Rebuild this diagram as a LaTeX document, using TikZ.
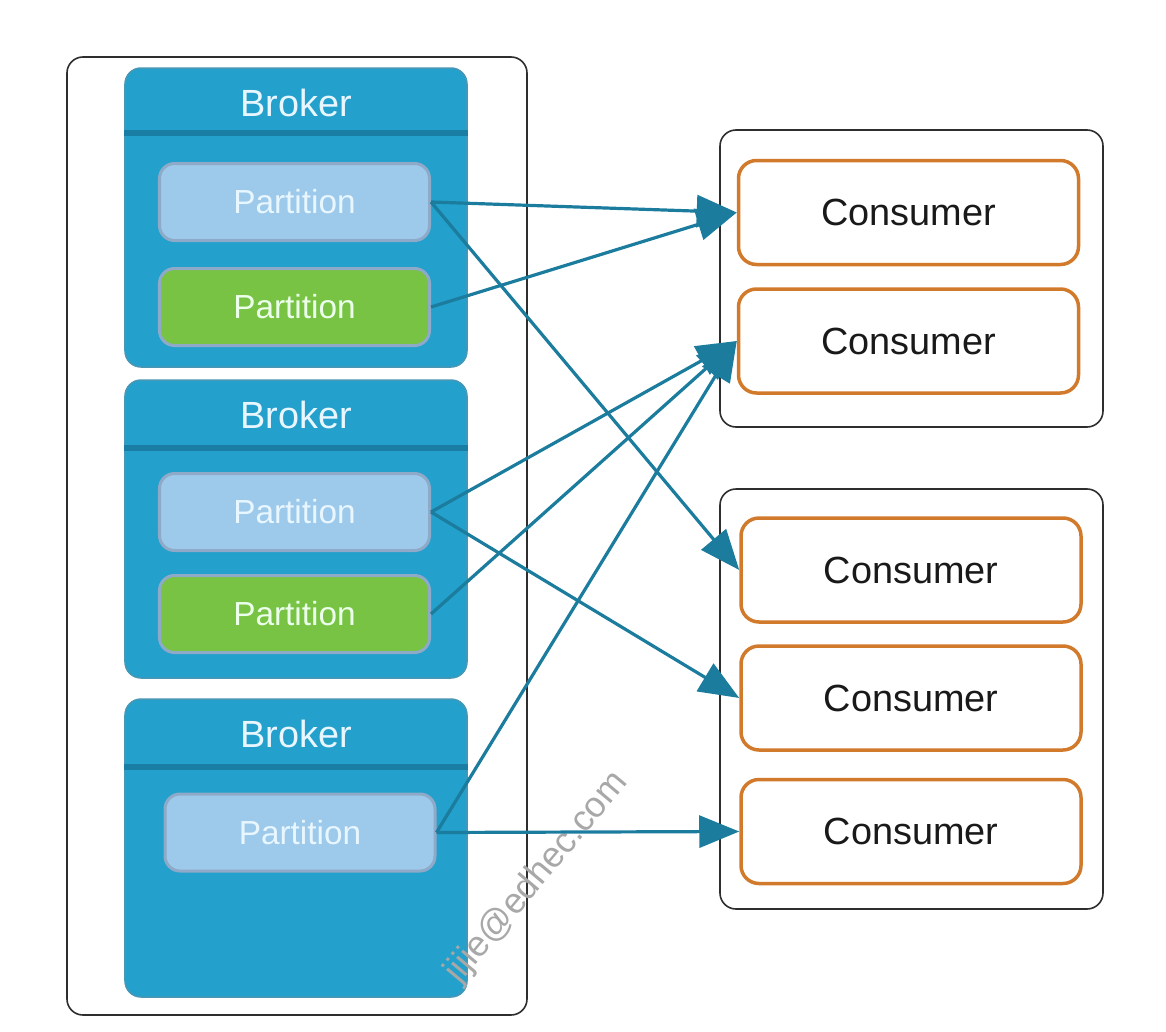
\documentclass[tikz,border=0pt]{standalone}
\usepackage{fontspec}
\setmainfont{Liberation Sans}
\usepackage{xcolor}
\usepackage{tikz}
\usetikzlibrary{arrows.meta}
\definecolor{brk}{HTML}{23A0CB}
\definecolor{brkline}{HTML}{1A7DA3}
\definecolor{pblue}{HTML}{9DC9EA}
\definecolor{pgreen}{HTML}{78C344}
\definecolor{pedge}{HTML}{8FA9C8}
\definecolor{csm}{HTML}{D27A2C}
\definecolor{flowc}{HTML}{1B7C9E}
\definecolor{frm}{HTML}{2E2E2E}
\definecolor{wmc}{HTML}{A8A8A8}
\definecolor{ltext}{HTML}{E8F6FF}
\tikzset{
  frame/.style={draw=frm, line width=1.6bp, rounded corners=16bp},
  broker/.style={fill=brk, draw=brkline!80, line width=1.5bp, rounded corners=16bp,
    minimum width=342bp, inner sep=0pt},
  hdr/.style={draw=brkline, line width=6bp},
  blab/.style={text=ltext, font=\fontsize{38}{44}\selectfont},
  part/.style={draw=pedge, line width=3bp, rounded corners=15bp,
    minimum width=270bp, minimum height=77bp, inner sep=0pt,
    text=ltext, font=\fontsize{33.5}{40}\selectfont},
  pb/.style={part, fill=pblue},
  pg/.style={part, fill=pgreen, text=green!8},
  consumer/.style={draw=csm, line width=3.5bp, rounded corners=18bp, fill=white,
    minimum width=340bp, minimum height=104bp, inner sep=0pt,
    text=black!90, font=\fontsize{38}{44}\selectfont},
  flow/.style={draw=flowc, line width=3.2bp, -{Triangle[length=40bp, width=32bp]}},
  wm/.style={text=wmc, font=\fontsize{36}{42}\selectfont},
}
\begin{document}
\begin{tikzpicture}[x=1bp, y=-1bp]
  \useasboundingbox (0,0) rectangle (1166,1032);
  % left side: brokers
  \node[frame, minimum width=460bp, minimum height=958bp] (cluster) at (297,536) {};
  \node[broker, minimum height=299bp] (b1) at (296,217.5) {};
  \node[broker, minimum height=298bp] (b2) at (296,529) {};
  \node[broker, minimum height=298bp] (b3) at (296,848) {};
  \draw[hdr] (b1.west |- 0,133) -- (b1.east |- 0,133);
  \draw[hdr] (b2.west |- 0,448) -- (b2.east |- 0,448);
  \draw[hdr] (b3.west |- 0,767) -- (b3.east |- 0,767);
  \node[blab] (l1) at (296,103) {Broker};
  \node[blab] (l2) at (296,415) {Broker};
  \node[blab] (l3) at (296,734) {Broker};
  \node[pb] (p11) at (294.5,202) {Partition};
  \node[pg] (p12) at (294.5,307) {Partition};
  \node[pb] (p21) at (294.5,512) {Partition};
  \node[pg] (p22) at (294.5,614) {Partition};
  \node[pb] (p31) at (300,832.5) {Partition};
  % right side: consumer groups
  \node[frame, minimum width=383bp, minimum height=297bp] (g1) at (911.5,278.5) {};
  \node[frame, minimum width=383bp, minimum height=420bp] (g2) at (911.5,699) {};
  \node[consumer] (c11) at (908.5,212.5) {Consumer};
  \node[consumer] (c12) at (908.5,341) {Consumer};
  \node[consumer] (c21) at (911,570) {Consumer};
  \node[consumer] (c22) at (911,698) {Consumer};
  \node[consumer] (c23) at (911,831.5) {Consumer};
  % assignments
  \node[wm, rotate=50] (mark) at (537,878) {jijie@edhec.com};
  \draw[flow] (p11.east) -- (c11.west);
  \draw[flow] (p11.east) -- (c21.west);
  \draw[flow] (p12.east) -- (c11.west);
  \draw[flow] (p21.east) -- (c12.west);
  \draw[flow] (p21.east) -- (c22.west);
  \draw[flow] (p22.east) -- (c12.west);
  \draw[flow] (p31.east) -- (c12.west);
  \draw[flow] (p31.east) -- (c23.west);
\end{tikzpicture}
\end{document}
